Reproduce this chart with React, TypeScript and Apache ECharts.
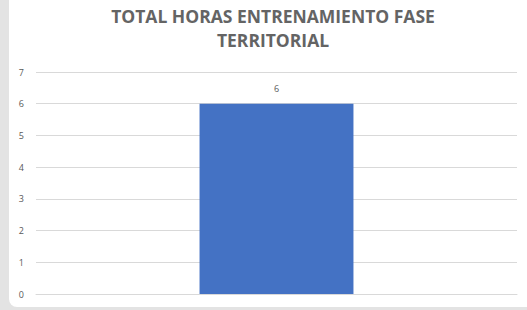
import React, { useEffect, useRef } from "react";
import * as echarts from "echarts";

const titleText = "TOTAL HORAS ENTRENAMIENTO FASE\nTERRITORIAL";
const categories = ["Total"];
const values = [6];
const yMin = 0;
const yMax = 7;
const yInterval = 1;

export default function App() {
  const ref = useRef<HTMLDivElement>(null);
  useEffect(() => {
    if (!ref.current) return;
    const chart = echarts.init(ref.current, null, { renderer: "svg" });
    chart.setOption({
      animation: false,
      title: {
        text: titleText,
        left: 268,
        textAlign: "center",
        top: -1,
        textStyle: {
          fontFamily: "Open Sans",
          fontWeight: "bold",
          fontSize: 17.5,
          color: "#646464",
          lineHeight: 24,
        },
      },
      grid: { left: 36, right: 10, top: 72, bottom: 16, containLabel: false },
      xAxis: {
        type: "category",
        data: categories,
        axisLine: { show: true, lineStyle: { color: "#d9d9d9" } },
        axisTick: { show: false },
        axisLabel: { show: false },
      },
      yAxis: {
        type: "value",
        min: yMin,
        max: yMax,
        interval: yInterval,
        axisLine: { show: false },
        axisTick: { show: false },
        axisLabel: {
          color: "#595959",
          fontSize: 9,
          fontFamily: "Open Sans",
          margin: 12,
        },
        splitLine: { lineStyle: { color: "#d9d9d9", width: 1 } },
      },
      series: [
        {
          type: "bar",
          data: values,
          barWidth: "32%",
          itemStyle: { color: "#4472C4" },
          label: {
            show: true,
            position: "top",
            color: "#595959",
            fontSize: 9,
            fontFamily: "Open Sans",
            distance: 11,
          },
        },
      ],
    });
    return () => chart.dispose();
  }, []);
  return (
    <div style={{ position: "fixed", left: 0, top: 0, width: 527, height: 310, background: "#e3e3e3", overflow: "hidden" }}>
      <div style={{ position: "absolute", left: 9, top: -10, width: 530, height: 317, background: "#ffffff", borderRadius: 8 }} />
      <div ref={ref} style={{ position: "absolute", left: 0, top: 0, width: 527, height: 310 }} />
    </div>
  );
}
